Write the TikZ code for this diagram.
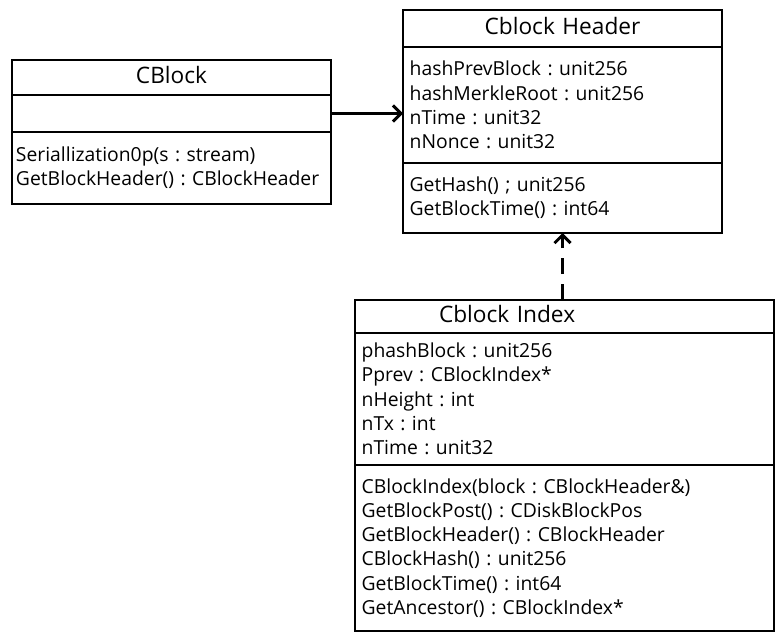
\documentclass[tikz,border=0pt]{standalone}
\usepackage{fontspec}
\setmainfont{Open Sans}
\usetikzlibrary{arrows.meta}
\frenchspacing

\tikzset{every picture/.style={line width=0.75pt}}
\tikzset{
	part/.style={draw, line width=1.5pt, anchor=north west, outer sep=0pt, inner xsep=5pt, inner ysep=0pt, align=left, font=\fontsize{14.5}{18.2}\selectfont},
	head/.style={part, align=center, font=\fontsize{17}{18}\selectfont, text height=12pt, text depth=3pt},
	assoc/.style={line width=2.25pt, -{Straight Barb[length=6pt,width=12pt]}},
	dep/.style={assoc, dash pattern=on 12pt off 7.5pt},
}

\begin{document}
\begin{tikzpicture}[x=0.75pt,y=0.75pt,yscale=-1,xscale=1]
	\useasboundingbox (0,0) rectangle (776,635); %set diagram 776 wide, 635 high
	
	%Class: CBlock
	\node [head, text width=229.25pt, minimum height=26.25pt] (cb1) at (12,60) {CBlock};
	\node [part, text width=229.25pt, minimum height=27.75pt] (cb2) at (cb1.south west) {};
	\node [part, text width=233.25pt, minimum height=54pt, inner xsep=3pt] (cb3) at (cb2.south west) {Seriallization0p(s : stream)\\GetBlockHeader() : CBlockHeader};
	
	%Class: Cblock Header
	\node [head, text width=229.25pt, minimum height=27.75pt] (hdr1) at (403,10) {Cblock Header};
	\node [part, text width=229.25pt, minimum height=87pt] (hdr2) at (hdr1.south west) {hashPrevBlock : unit256\\hashMerkleRoot : unit256\\nTime : unit32\\nNonce : unit32};
	\node [part, text width=229.25pt, minimum height=52.5pt] (hdr3) at (hdr2.south west) {GetHash() ; unit256\\GetBlockTime() : int64};
	
	%Class: Cblock Index
	\node [head, align=left, text width=304.25pt, minimum height=24.75pt] (ix1) at (355,300) {\hspace*{58pt}Cblock Index};
	\node [part, text width=304.25pt, minimum height=99pt] (ix2) at (ix1.south west) {phashBlock : unit256\\Pprev : CBlockIndex*\\nHeight : int\\nTx : int\\nTime : unit32};
	\node [part, text width=304.25pt, minimum height=124.5pt] (ix3) at (ix2.south west) {CBlockIndex(block : CBlockHeader\&)\\GetBlockPost() : CDiskBlockPos\\GetBlockHeader() : CBlockHeader\\CBlockHash() : unit256\\GetBlockTime() : int64\\GetAncestor() : CBlockIndex*};
	
	%Arrows
	\draw [assoc] (cb2.east) -- (cb2.east -| hdr2.west) ;
	\draw [dep] (hdr3.south |- ix1.north) -- (hdr3.south) ;
	
\end{tikzpicture}
\end{document}
